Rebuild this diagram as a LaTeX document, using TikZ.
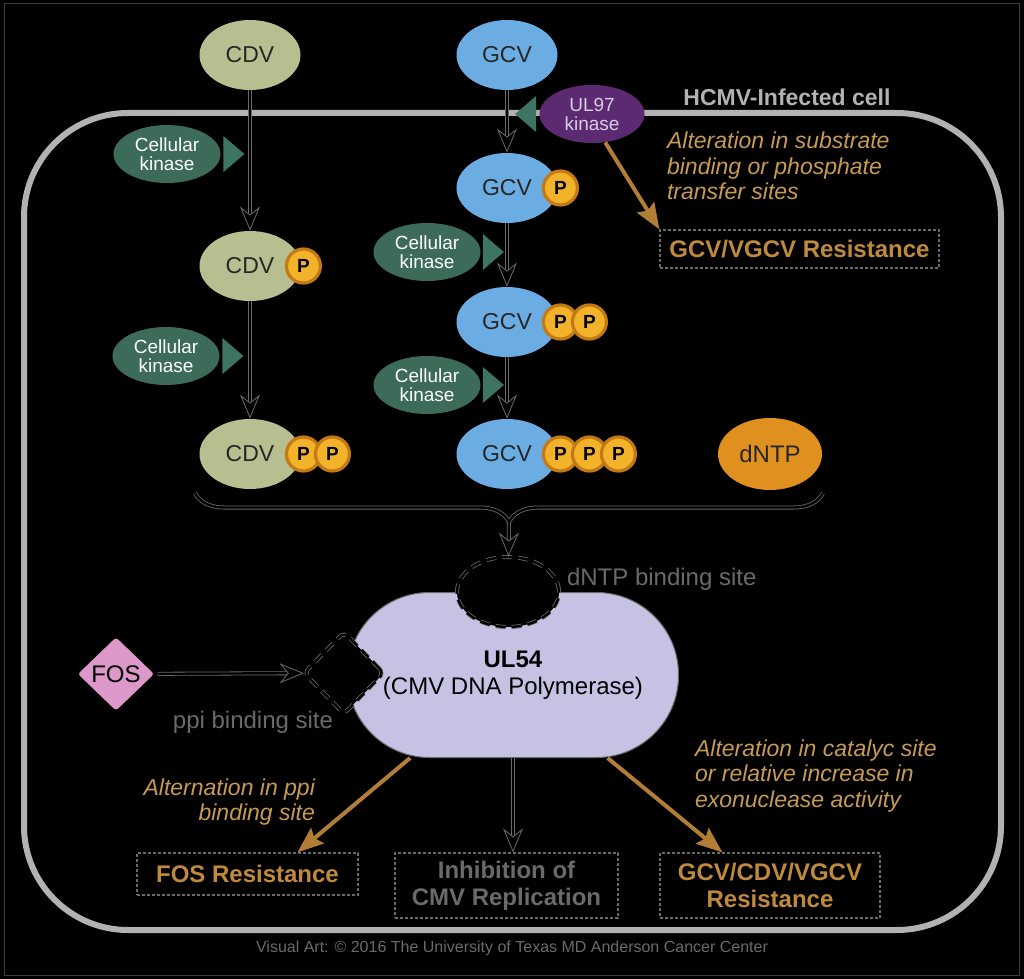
\documentclass[tikz,border=0pt]{standalone}
\usepackage{fontspec}
\setmainfont{Liberation Sans}
\usetikzlibrary{arrows.meta, positioning, shapes.geometric, calc, decorations.pathreplacing}
\definecolor{CdvGreen}{HTML}{B7BF91}
\definecolor{GcvBlue}{HTML}{6BADE3}
\definecolor{KinGreen}{HTML}{3D6B59}
\definecolor{TriGreen}{HTML}{3E7463}
\definecolor{UlPurple}{HTML}{5B2A70}
\definecolor{UlText}{HTML}{D8CCE6}
\definecolor{PhYellow}{HTML}{F2B32B}
\definecolor{PhRing}{HTML}{C47A14}
\definecolor{DntpOrange}{HTML}{E0901E}
\definecolor{PolLilac}{HTML}{C6C2E3}
\definecolor{FosPink}{HTML}{DC98C8}
\definecolor{ResBrown}{HTML}{B27D34}
\definecolor{NoteBrown}{HTML}{C79A55}
\definecolor{ResText}{HTML}{C08A3C}
\definecolor{CellGray}{HTML}{B2B2B2}
\definecolor{Halo}{HTML}{6A6A6A}
\definecolor{FrameGray}{HTML}{3C3C3C}

\begin{document}
\begin{tikzpicture}[x=0.5pt, y=-0.5pt,
    drug/.style={ellipse, minimum width=50.5pt, minimum height=35pt, inner sep=0pt, text=black!85, font=\fontsize{11.5}{13}\selectfont},
    kinase/.style={ellipse, fill=KinGreen, text=white, minimum width=53.5pt, minimum height=29pt, inner sep=0pt, align=center, font=\fontsize{9.5}{9.5}\selectfont},
    ktri/.style={isosceles triangle, isosceles triangle stretches, fill=TriGreen, minimum width=18pt, minimum height=10.5pt, inner sep=0pt, outer sep=0pt},
    phos/.style={circle, fill=PhYellow, draw=PhRing, line width=1.6pt, minimum size=17pt, inner sep=0pt, outer sep=0pt, font=\bfseries\fontsize{9.5}{10}\selectfont},
    resbox/.style={draw=Halo, dash pattern=on 1.5pt off 1pt, line width=0.6pt, inner sep=0pt, align=center, font=\bfseries\fontsize{12}{13.5}\selectfont},
    flow/.style={draw=Halo, double=black, line width=0.4pt, double distance=1.2pt, -{Stealth[length=12pt, width=10pt, inset=4pt, fill=black]}},
    resarrow/.style={ResBrown, line width=2pt, -{Stealth[length=13pt, width=10pt, inset=2pt]}},
    note/.style={text=NoteBrown, font=\itshape\fontsize{11.5}{12.75}\selectfont},
    hollow/.style={text=Halo, font=\fontsize{12}{13.5}\selectfont},
    site/.style={fill=black, draw=Halo, double=black, line width=0.4pt, double distance=1.2pt, dash pattern=on 5pt off 3pt, inner sep=0pt}
]
    % --- background and cell ---
    \fill[black] (0,0) rectangle (1024,979);
    \draw[FrameGray, line width=0.5pt] (4,4) rectangle (1019,975);
    \draw[CellGray, line width=3pt, rounded corners=52pt] (24,113) rectangle (1001,930);
    \node[font=\bfseries\fontsize{11.5}{13}\selectfont, text=CellGray] (celllbl) at (787,97) {HCMV-Infected cell};

    % --- CDV branch ---
    \node[drug, fill=CdvGreen] (cdv0) at (250,55) {CDV};
    \node[drug, fill=CdvGreen] (cdv1) at (250,266) {CDV};
    \node[phos, right=-7.25pt of cdv1] (cdv1a) {P};
    \node[drug, fill=CdvGreen] (cdv2) at (250,454) {CDV};
    \node[phos, right=-7.25pt of cdv2] (cdv2a) {P};
    \node[phos, right=-2.5pt of cdv2a] (cdv2b) {P};

    \node[kinase] (kin1) at (167,154) {Cellular\\kinase};
    \node[ktri, right=1.25pt of kin1] (kin1t) {};
    \node[kinase] (kin2) at (166,356) {Cellular\\kinase};
    \node[ktri, right=1.25pt of kin2] (kin2t) {};

    \draw[flow] (cdv0) -- (cdv1);
    \draw[flow] (cdv1) -- (cdv2);

    % --- GCV branch ---
    \node[drug, fill=GcvBlue] (gcv0) at (507,55) {GCV};
    \node[drug, fill=GcvBlue] (gcv1) at (507,188) {GCV};
    \node[phos, right=-7.25pt of gcv1] (gcv1a) {P};
    \node[drug, fill=GcvBlue] (gcv2) at (507,322) {GCV};
    \node[phos, right=-7.25pt of gcv2] (gcv2a) {P};
    \node[phos, right=-2.5pt of gcv2a] (gcv2b) {P};
    \node[drug, fill=GcvBlue] (gcv3) at (507,454) {GCV};
    \node[phos, right=-7.25pt of gcv3] (gcv3a) {P};
    \node[phos, right=-2.5pt of gcv3a] (gcv3b) {P};
    \node[phos, right=-2.5pt of gcv3b] (gcv3c) {P};

    \node[kinase, fill=UlPurple, text=UlText, minimum width=52.5pt] (ul97) at (592,114) {UL97\\kinase};
    \node[ktri, shape border rotate=180, left=1.5pt of ul97] (ul97t) {};
    \node[kinase] (kin3) at (427,252) {Cellular\\kinase};
    \node[ktri, right=1pt of kin3] (kin3t) {};
    \node[kinase] (kin4) at (427,385) {Cellular\\kinase};
    \node[ktri, right=1pt of kin4] (kin4t) {};

    \draw[flow] (gcv0) -- (gcv1);
    \draw[flow] (gcv1) -- (gcv2);
    \draw[flow] (gcv2) -- (gcv3);

    \node[drug, fill=DntpOrange, minimum width=52pt, minimum height=36pt, font=\fontsize{12}{13}\selectfont] (dntp) at (770,454) {dNTP};

    % UL97 resistance
    \node[resbox, text=ResText, minimum width=139.5pt, minimum height=19pt] (gvres) at (799.5,249) {GCV/VGCV Resistance};
    \node[note, align=left, anchor=west] (subnote) at (660,166) {Alteration in substrate\\binding or phosphate\\transfer sites};
    \draw[resarrow] (ul97.-65) -- (gvres.north west);

    % --- brace into polymerase ---
    \draw[Halo, double=black, line width=0.4pt, double distance=1.2pt, decorate, decoration={brace, amplitude=14.5pt}] (823,493) -- (195,493);
    \coordinate (braceTip) at (509,522);

    % --- UL54 polymerase ---
    \node[draw=Halo, line width=0.5pt, fill=PolLilac, rounded corners=41pt, minimum width=165.5pt, minimum height=82.5pt, align=center, font=\fontsize{12}{13.5}\selectfont] (ul54) at (513,675) {\textbf{UL54}\\(CMV DNA Polymerase)};
    \node[site, ellipse, minimum width=51pt, minimum height=35pt] (dsite) at (508,592) {};
    \node[site, diamond, rounded corners=3pt, minimum width=40pt, minimum height=41pt] (ppi) at (344,673) {};
    \node[hollow, anchor=west] (dsitelbl) at (560,579) {dNTP binding site};
    \node[hollow] (ppilbl) at (253,722) {ppi binding site};

    \node[diamond, fill=FosPink, draw=black, line width=1.2pt, rounded corners=2pt, minimum width=40.5pt, minimum height=39pt, inner sep=0pt, font=\fontsize{12}{13}\selectfont] (fos) at (116,674) {FOS};

    \draw[flow] (braceTip) -- (dsite);
    \draw[flow] (fos) -- (ppi);

    % --- outcomes ---
    \node[resbox, text=ResText, minimum width=110.5pt, minimum height=21pt] (fosres) at (247.5,874) {FOS Resistance};
    \node[resbox, text=Halo, minimum width=111.5pt, minimum height=32.5pt] (inhib) at (506.5,885.5) {Inhibition of\\CMV Replication};
    \node[resbox, text=ResText, minimum width=110pt, minimum height=32.5pt] (gcres) at (770,885.5) {GCV/CDV/VGCV\\Resistance};

    \node[note, align=right, anchor=east] (ppinote) at (322,802) {Alternation in ppi\\binding site};
    \node[note, align=left, anchor=west] (catnote) at (688,776) {Alteration in catalyc site\\or relative increase in\\exonuclease activity};

    \coordinate (ppiOut) at ($(ul54.south)!0.62!(ul54.south west)$);
    \coordinate (catOut) at ($(ul54.south)!0.57!(ul54.south east)$);
    \draw[resarrow] (ppiOut) -- ($(fosres.north)!0.45!(fosres.north east)$);
    \draw[resarrow] (catOut) -- ($(gcres.north west)!0.57!(gcres.north)$);
    \draw[flow] (ul54.south) -- (ul54.south |- inhib.north);

    \node[hollow, font=\fontsize{8}{9}\selectfont] (credit) at (512,948) {Visual Art: © 2016 The University of Texas MD Anderson Cancer Center};
\end{tikzpicture}
\end{document}
